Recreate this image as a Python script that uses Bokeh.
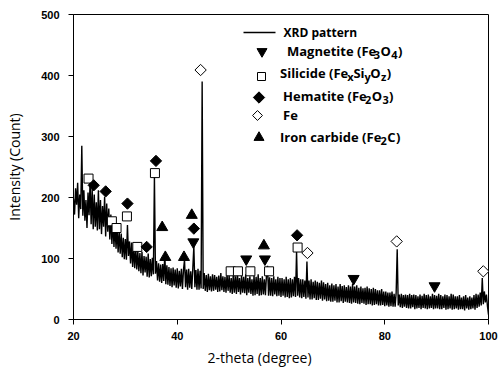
import math
from bokeh.plotting import figure
from bokeh.models import Range1d, FixedTicker, Title
from bokeh.core.properties import value
from bokeh.embed import file_html
from bokeh.resources import INLINE

# ---------------- data ----------------
scan_start = 20.0
scan_step = 0.2
intensity = [
    198, 172, 215, 188, 224,
    166, 205, 181, 285, 170,
    212, 162, 196, 150, 208,
    171, 226, 156, 214, 148,
    205, 152, 192, 146, 212,
    148, 196, 140, 186, 152,
    201, 136, 190, 144, 182,
    131, 172, 124, 164, 119,
    156, 116, 150, 110, 146,
    108, 141, 102, 134, 99,
    132, 98, 155, 104, 128,
    92, 126, 86, 119, 84,
    118, 82, 112, 79, 109,
    76, 111, 72, 104, 77,
    103, 70, 108, 69, 99,
    71, 101, 74, 235, 75,
    96, 64, 92, 62, 90,
    60, 91, 63, 108, 58,
    89, 57, 86, 55, 84,
    53, 85, 56, 82, 52,
    84, 51, 80, 54, 83,
    50, 81, 98, 53, 82,
    49, 83, 52, 79, 50,
    84, 120, 53, 81, 49,
    83, 49, 80, 51, 390,
    50, 76, 47, 73, 45,
    75, 48, 71, 46, 74,
    47, 73, 49, 70, 45,
    72, 46, 76, 48, 71,
    45, 70, 44, 74, 47,
    72, 44, 68, 42, 74,
    44, 71, 42, 76, 45,
    68, 41, 72, 44, 70,
    43, 74, 40, 68, 44,
    71, 42, 66, 39, 72,
    40, 70, 42, 74, 39,
    68, 40, 71, 41, 66,
    40, 72, 88, 39, 69,
    39, 68, 38, 71, 41,
    66, 38, 70, 39, 68,
    37, 68, 39, 66, 36,
    70, 37, 66, 35, 68,
    36, 66, 38, 70, 37,
    112, 39, 68, 36, 66,
    35, 66, 37, 64, 34,
    95, 36, 64, 33, 66,
    33, 62, 35, 64, 32,
    62, 32, 60, 34, 64,
    31, 61, 33, 58, 30,
    60, 31, 56, 29, 59,
    29, 56, 31, 58, 28,
    54, 28, 58, 30, 55,
    27, 56, 29, 53, 28,
    56, 27, 54, 26, 58,
    28, 54, 27, 56, 26,
    52, 25, 54, 27, 51,
    26, 52, 24, 54, 25,
    51, 25, 50, 23, 52,
    24, 50, 25, 48, 23,
    48, 23, 50, 24, 46,
    22, 46, 23, 44, 21,
    44, 22, 46, 21, 42,
    21, 44, 115, 23, 41,
    20, 42, 19, 40, 21,
    41, 19, 40, 18, 42,
    18, 40, 20, 41, 17,
    40, 18, 38, 19, 41,
    17, 39, 19, 42, 18,
    40, 17, 41, 18, 38,
    19, 42, 17, 40, 18,
    39, 18, 42, 17, 40,
    17, 38, 19, 41, 16,
    40, 17, 38, 18, 42,
    16, 41, 17, 38, 18,
    38, 16, 40, 17, 36,
    17, 38, 15, 40, 18,
    36, 16, 38, 17, 36,
    18, 40, 16, 42, 19,
    41, 21, 44, 23, 68,
    25, 46, 28, 41, 22,
    8,
]
two_theta = [round(scan_start + scan_step * i, 1) for i in range(len(intensity))]

magnetite_x = [43.1, 53.3, 56.9, 74.0, 89.6]
magnetite_y = [127, 99, 99, 67, 55]

silicide_x = [22.9, 27.4, 28.3, 30.3, 32.3, 35.7, 50.3, 51.7, 54.1, 57.7, 63.2]
silicide_y = [231, 161, 150, 169, 119, 240, 79, 79, 79, 79, 118]

hematite_x = [23.9, 26.2, 30.4, 34.1, 35.9, 43.2, 63.1]
hematite_y = [220, 210, 190, 119, 260, 149, 138]

fe_x = [44.5, 65.1, 82.3, 99.0]
fe_y = [409, 109, 128, 79]

carbide_x = [37.1, 37.7, 41.3, 42.8, 56.7]
carbide_y = [151, 102, 102, 171, 121]

x_ticks = [20, 40, 60, 80, 100]
y_ticks = [0, 100, 200, 300, 400, 500]

# ---------------- figure ----------------
FRAME_W, FRAME_H = 415, 305
p = figure(width=498, height=376, x_range=Range1d(20, 100), y_range=Range1d(0, 500),
           output_backend="svg", toolbar_location=None,
           min_border_left=73, min_border_right=10, min_border_top=14, min_border_bottom=57)
p.background_fill_color = "white"
p.border_fill_color = "white"
p.outline_line_color = "black"
p.outline_line_width = 1
p.grid.visible = False

p.xaxis.ticker = FixedTicker(ticks=x_ticks)
p.yaxis.ticker = FixedTicker(ticks=y_ticks)
for ax in (p.xaxis[0], p.yaxis[0]):
    ax.minor_tick_line_color = None
    ax.major_tick_in = 0
    ax.major_tick_out = 5
    ax.axis_line_color = "black"
    ax.major_tick_line_color = "black"
    ax.major_label_text_font = "Liberation Sans"
    ax.major_label_text_font_style = "bold"
    ax.major_label_text_font_size = "11px"
    ax.major_label_text_color = "black"
    ax.axis_label_text_font = "Open Sans"
    ax.axis_label_text_font_style = "normal"
    ax.axis_label_text_font_size = "14px"
    ax.axis_label_text_color = "black"
p.yaxis.axis_label = "Intensity (Count)"
p.xaxis.major_label_standoff = 7
p.yaxis.major_label_standoff = 9
p.yaxis.axis_label_standoff = 14

# x-axis title, a little left of the frame centre as in the original
p.add_layout(Title(text="2-theta (degree)", align="left", offset=134, standoff=6,
                   text_font="Open Sans", text_font_size="14px", text_font_style="normal",
                   text_color="black"), "below")

# ---------------- data glyphs ----------------
p.line(two_theta, intensity, line_color="black", line_width=1.4)

p.scatter(magnetite_x, magnetite_y, marker="inverted_triangle", size=11,
          fill_color="black", line_color="black")
p.scatter(silicide_x, silicide_y, marker="square", size=9,
          fill_color="white", line_color="black", line_width=1)
p.scatter(hematite_x, hematite_y, marker="square", size=8, angle=math.pi / 4,
          fill_color="black", line_color="black")
p.scatter(fe_x, fe_y, marker="square", size=8, angle=math.pi / 4,
          fill_color="white", line_color="black", line_width=1)
p.scatter(carbide_x, carbide_y, marker="triangle", size=11,
          fill_color="black", line_color="black")

# ---------------- manual legend (pixel coordinates inside the frame) ----------------
p.extra_x_ranges = {"lx": Range1d(0, FRAME_W)}
p.extra_y_ranges = {"ly": Range1d(0, FRAME_H)}
L = dict(x_range_name="lx", y_range_name="ly")

p.line([170, 202], [287, 287], line_color="black", line_width=1.5, **L)
p.scatter([188.5], [268], marker="inverted_triangle", size=10, fill_color="black", line_color="black", **L)
p.scatter([188], [243], marker="square", size=8, fill_color="white", line_color="black", **L)
p.scatter([185.5], [222], marker="square", size=8, angle=math.pi / 4, fill_color="black", line_color="black", **L)
p.scatter([184], [204], marker="square", size=7, angle=math.pi / 4, fill_color="white", line_color="black", **L)
p.scatter([185.5], [182], marker="triangle", size=10, fill_color="black", line_color="black", **L)

W = {' ': 0.26, '(': 0.296, ')': 0.296, 'F': 0.532, 'e': 0.561, 'O': 0.778, 'M': 0.907,
     'a': 0.556, 'g': 0.494, 'n': 0.613, 't': 0.352, 'i': 0.258, 'S': 0.55, 'l': 0.258,
     'c': 0.479, 'd': 0.613, 'H': 0.735, 'm': 0.93, 'r': 0.408, 'o': 0.602, 'b': 0.613,
     'I': 0.279, 'C': 0.633, 'x': 0.523, 'y': 0.5, 'z': 0.479, '2': 0.572, '3': 0.572,
     '4': 0.572, 'X': 0.621, 'R': 0.604, 'D': 0.739, 'p': 0.613}

NORM, SUB = 13, 11
BOLD_K = 1.06


def width(s, size):
    return sum(W.get(ch, 0.55) for ch in s) * size * BOLD_K


def rich(x0, y0, segments):
    x = x0
    for txt, sub in segments:
        size = SUB if sub else NORM
        yy = y0 - 4 if sub else y0
        p.text([x], [yy], text=[txt], text_font=value("Open Sans"),
               text_font_size=f"{size}px", text_baseline="middle", text_align="left",
               text_color="black", text_font_style="bold", **L)
        x += width(txt, size)


p.text([210], [287], text=["XRD pattern"], text_font=value("Open Sans"), text_font_size="12px",
       text_font_style="bold", text_baseline="middle", text_color="black", **L)
rich(213.5, 269, [("Magnetite (Fe", False), ("3", True), ("O", False), ("4", True), (")", False)])
rich(206.5, 247, [("Silicide (Fe", False), ("x", True), ("Si", False), ("y", True),
                  ("O", False), ("z", True), (")", False)])
rich(209.5, 224, [("Hematite (Fe", False), ("2", True), ("O", False), ("3", True), (")", False)])
rich(209.5, 205, [("Fe", False)])
rich(206.5, 183, [("Iron carbide (Fe", False), ("2", True), ("C", False), (")", False)])

open("out.html", "w").write(file_html(p, INLINE))
